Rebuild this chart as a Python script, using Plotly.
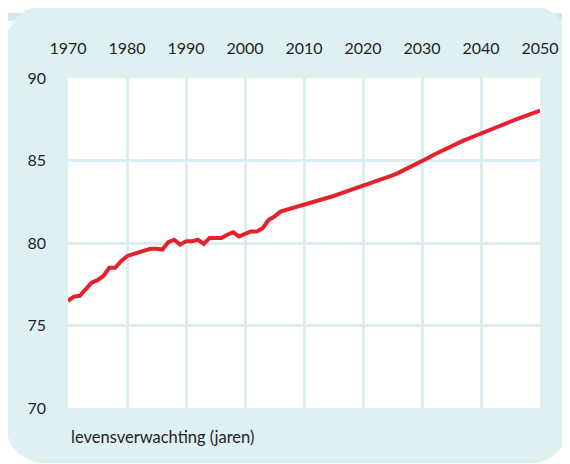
"""Levensverwachting (jaren), 1970-2050. Red line on a white grid inside a
rounded light-blue panel; year labels along the top."""
import plotly.graph_objects as go

PANEL = "#dff0f3"
GRID = "#dbeef2"
DECOR = "#cfe7ee"
LINE_RED = "#e4222b"
TEXT = "#1f1f1f"
FONT = "Lato, 'Open Sans', sans-serif"

years = list(range(1970, 2051))
life_expectancy = [
    76.5, 76.75, 76.8, 77.2, 77.6, 77.75, 78.0, 78.5, 78.5, 78.9,   # 1970-79
    79.2, 79.33, 79.45, 79.55, 79.65, 79.65, 79.6, 80.05, 80.2, 79.9,  # 1980-89
    80.1, 80.1, 80.2, 79.95, 80.3, 80.3, 80.3, 80.5, 80.65, 80.4,   # 1990-99
    80.55, 80.7, 80.7, 80.9, 81.4, 81.6, 81.9, 82.0, 82.1, 82.25,   # 2000-09
    82.35, 82.45, 82.55, 82.65, 82.75, 82.85, 82.98, 83.1, 83.22, 83.35,  # 2010-19
    83.48, 83.6, 83.72, 83.85, 83.98, 84.1, 84.25, 84.42, 84.6, 84.78,  # 2020-29
    84.95, 85.15, 85.35, 85.53, 85.72, 85.9, 86.05, 86.2, 86.35, 86.5,  # 2030-39
    86.65, 86.8, 86.93, 87.08, 87.22, 87.37, 87.5, 87.63, 87.77, 87.9,  # 2040-49
    88.03,                                                              # 2050
]
x_ticks = [1970, 1980, 1990, 2000, 2010, 2020, 2030, 2040, 2050]
y_ticks = [70, 75, 80, 85, 90]
y_label = "levensverwachting (jaren)"

# The page body has an 8px margin, so the figure is drawn 8px smaller and
# every screen position below is given in window pixels minus that offset.
OFF = 8
W, H = 570 - OFF, 464 - OFF
L, T = 68 - OFF, 78 - OFF          # plot area: window 68..540 x 78..408
R, B = W - (540 - OFF), H - (408 - OFF)
PW, PH = W - L - R, H - T - B


def px(x):
    return (x - OFF - L) / PW


def py(y):
    return (H - B - (y - OFF)) / PH


def rounded_rect(x0, y0, x1, y1, r):
    """SVG path (paper coords) for a rounded rectangle given in window px.
    Corners are cubic approximations of quarter circles."""
    k = r * 0.4477  # r * (1 - 0.5523)

    def p(x, y):
        return f"{px(x)},{py(y)}"

    pts = [
        f"M {p(x0 + r, y0)}",
        f"L {p(x1 - r, y0)}",
        f"C {p(x1 - k, y0)} {p(x1, y0 + k)} {p(x1, y0 + r)}",
        f"L {p(x1, y1 - r)}",
        f"C {p(x1, y1 - k)} {p(x1 - k, y1)} {p(x1 - r, y1)}",
        f"L {p(x0 + r, y1)}",
        f"C {p(x0 + k, y1)} {p(x0, y1 - k)} {p(x0, y1 - r)}",
        f"L {p(x0, y0 + r)}",
        f"C {p(x0, y0 + k)} {p(x0 + k, y0)} {p(x0 + r, y0)}",
        "Z",
    ]
    return " ".join(pts)


def rect(x0, y0, x1, y1, color):
    return dict(
        type="rect", xref="paper", yref="paper", layer="below",
        x0=px(x0), x1=px(x1), y0=py(y1), y1=py(y0),
        fillcolor=color, line=dict(width=0),
    )


fig = go.Figure()
fig.add_trace(go.Scatter(
    x=years, y=life_expectancy,
    mode="lines",
    line=dict(color=LINE_RED, width=4),
    hovertemplate="%{x}: %{y:.1f}<extra></extra>",
    showlegend=False,
))

shapes = [
    # decorative strips peeking out behind the panel
    rect(0, 13, 40, 21, DECOR),
    rect(279, 0, 284, 10, DECOR),
    rect(545, 13, 570, 21, DECOR),
    rect(0, 318, 10, 327, DECOR),
    dict(
        type="path", xref="paper", yref="paper", layer="below",
        path=rounded_rect(6, 6, 569, 463, 38),
        fillcolor=PANEL, line=dict(width=0),
    ),
    # white plot area on top of the panel, under the gridlines
    dict(
        type="rect", xref="paper", yref="paper", layer="below",
        x0=0, x1=1, y0=0, y1=1,
        fillcolor="white", line=dict(width=0),
    ),
]

fig.update_layout(
    width=W, height=H,
    margin=dict(l=L, r=R, t=T, b=B),
    paper_bgcolor="white",
    plot_bgcolor="white",
    font=dict(family=FONT, color=TEXT, size=16),
    shapes=shapes,
    annotations=[dict(
        text=y_label, xref="paper", yref="paper",
        x=px(69), y=py(437), xanchor="left", yanchor="middle",
        showarrow=False, font=dict(family=FONT, size=16.5, color=TEXT),
    )],
    xaxis=dict(
        side="top",
        range=[1970, 2050],
        tickmode="array", tickvals=x_ticks,
        ticks="", ticklabelstandoff=20,
        showgrid=True, gridcolor=GRID, gridwidth=2.5,
        showline=False, zeroline=False,
        tickfont=dict(size=16),
    ),
    yaxis=dict(
        range=[70, 90],
        tickmode="array", tickvals=y_ticks,
        ticks="", ticklabelstandoff=21,
        showgrid=True, gridcolor=GRID, gridwidth=2.5,
        showline=False, zeroline=False,
        tickfont=dict(size=16),
    ),
)

fig.write_html("out.html")
